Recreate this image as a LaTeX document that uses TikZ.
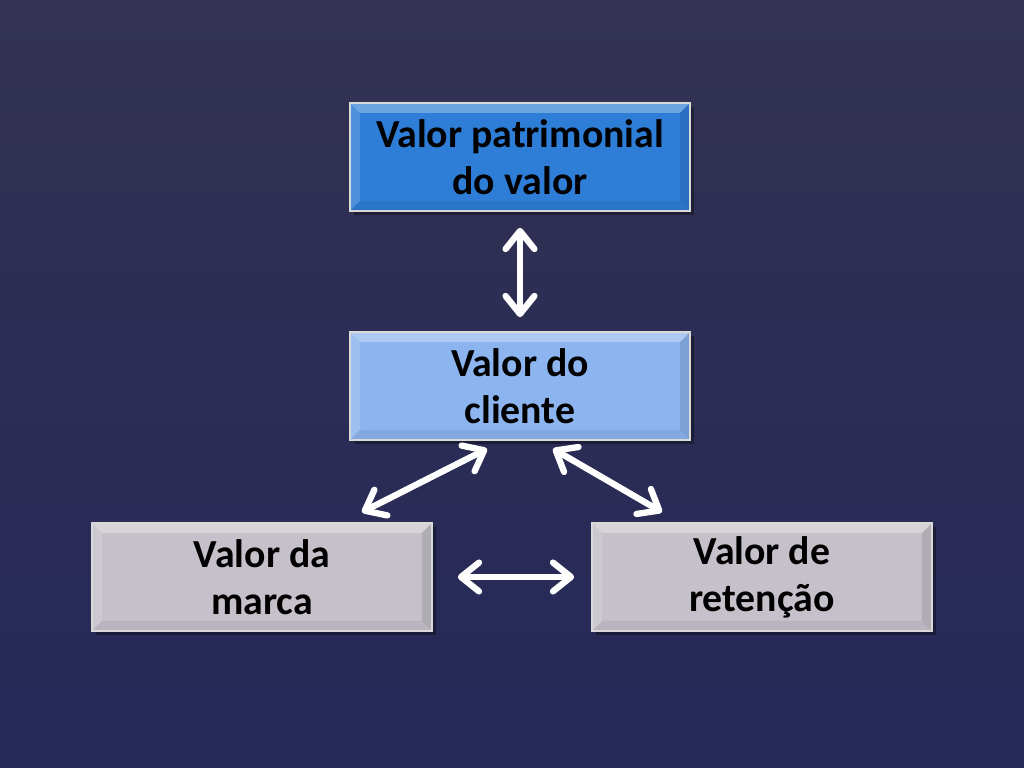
\documentclass[tikz,border=0pt]{standalone}
\usepackage{fontspec}
\setmainfont{Carlito}
\usepackage{xcolor}
\usepackage{tikz}
\usetikzlibrary{positioning, arrows.meta, shadows}

\definecolor{bgtop}{RGB}{51,50,82}
\definecolor{bgbot}{RGB}{37,40,88}
\definecolor{topblue}{RGB}{46,125,214}
\definecolor{midblue}{RGB}{140,180,238}
\definecolor{greybox}{RGB}{197,192,201}

\tikzset{
  bevel/.style={
    path picture={
      \fill[white, opacity=0.30] (path picture bounding box.north west) -- (path picture bounding box.north east)
        -- ([shift={(-0.25,-0.25)}]path picture bounding box.north east) -- ([shift={(0.25,-0.25)}]path picture bounding box.north west) -- cycle;
      \fill[white, opacity=0.15] (path picture bounding box.north west) -- ([shift={(0.25,-0.25)}]path picture bounding box.north west)
        -- ([shift={(0.25,0.25)}]path picture bounding box.south west) -- (path picture bounding box.south west) -- cycle;
      \fill[black, opacity=0.10] (path picture bounding box.north east) -- ([shift={(-0.25,-0.25)}]path picture bounding box.north east)
        -- ([shift={(-0.25,0.25)}]path picture bounding box.south east) -- (path picture bounding box.south east) -- cycle;
      \fill[black, opacity=0.06] (path picture bounding box.south west) -- (path picture bounding box.south east)
        -- ([shift={(-0.25,0.25)}]path picture bounding box.south east) -- ([shift={(0.25,0.25)}]path picture bounding box.south west) -- cycle;
    }},
  valuebox/.style={rectangle, draw=white!85!black, line width=1.2pt, bevel,
    minimum width=8.5cm, minimum height=2.7cm, align=center, text=black,
    font=\fontsize{28.3}{33.5}\selectfont\bfseries,
    drop shadow={shadow xshift=3pt, shadow yshift=-3pt, opacity=0.35, fill=black}},
  link/.style={{Straight Barb[length=0.45cm, width=0.72cm, round]}-{Straight Barb[length=0.45cm, width=0.72cm, round]},
    draw=white, line width=4.5pt, line cap=round}
}

\begin{document}
\begin{tikzpicture}[node distance=2cm, on grid]
    \shade[top color=bgtop, bottom color=bgbot] (0,0) rectangle (25.6,19.2);
    \useasboundingbox (0,0) rectangle (25.6,19.2);

    \node[valuebox, fill=topblue] (equity) at (13,15.275) {Valor patrimonial\\do valor};
    \node[valuebox, fill=midblue] (client) [below=5.725cm of equity] {Valor do\\cliente};
    \node[valuebox, fill=greybox] (brand) [below left=4.775cm and 6.45cm of client] {Valor da\\marca};
    \node[valuebox, fill=greybox] (retention) [right=12.5cm of brand] {Valor de\\retenção};

    \draw[link, shorten <=0.4cm, shorten >=0.35cm] (equity.south) -- (client.north);
    \draw[link] ([shift={(-0.825,-0.2)}]client.south) -- ([shift={(2.5,0.25)}]brand.north);
    \draw[link] ([shift={(0.825,-0.2)}]client.south) -- ([shift={(-2.5,0.25)}]retention.north);
    \draw[link, shorten <=0.625cm, shorten >=0.425cm] (brand.east) -- (retention.west);

\end{tikzpicture}
\end{document}
